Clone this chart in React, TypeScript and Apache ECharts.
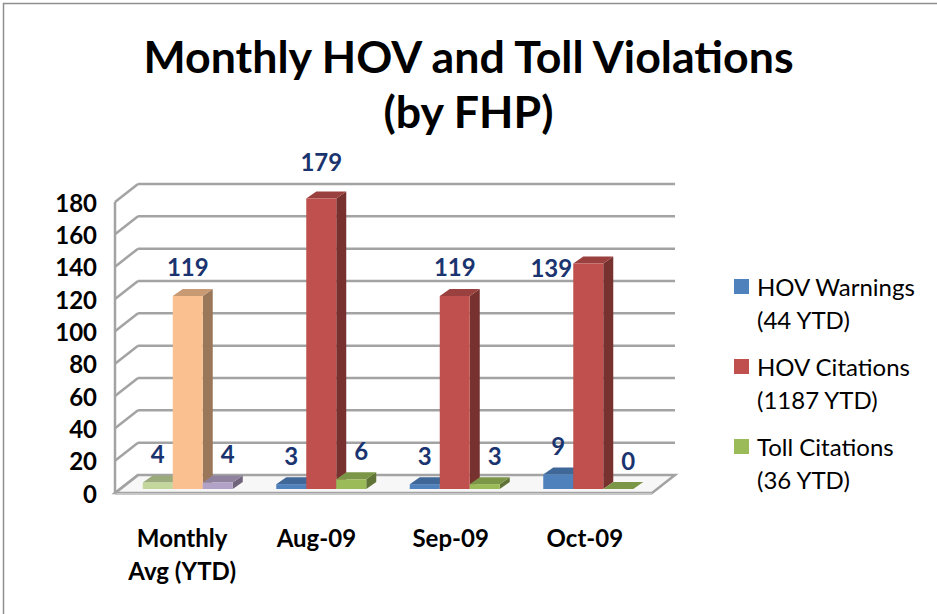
import React, { useEffect, useRef } from 'react';
import * as echarts from 'echarts';

// ---------- data ----------
const categories = ['Monthly\nAvg (YTD)', 'Aug-09', 'Sep-09', 'Oct-09'];
const seriesNames = ['HOV Warnings', 'HOV Citations', 'Toll Citations'];
const hovWarnings = [4, 3, 3, 9];
const hovCitations = [119, 179, 119, 139];
const tollCitations = [4, 6, 3, 0];
const ytdTotals = [44, 1187, 36];
const yTicks = [0, 20, 40, 60, 80, 100, 120, 140, 160, 180];

const seriesValues = [hovWarnings, hovCitations, tollCitations];

// ---------- styles ----------
const seriesColors = ['#4f81bd', '#c0504d', '#9bbb59'];
const avgColors = ['#c3d69b', '#fac090', '#b3a2c7'];
const LABEL_COLOR = '#1a3470';
const FONT = 'Lato, "Open Sans", sans-serif';
const BAR_W = 30;
const BAR_DX = 10;
const BAR_DY = -7;
const WALL_DX = 23;
const WALL_DY = -18;
const GRID_LINE = '#a3a3a3';
// label offsets for special data labels, keyed "series-index"
const labelOffsets: Record<string, number[]> = {
  '1-1': [0, -8],
  '1-3': [-37, 33],
};

function shade(hex: string, f: number): string {
  const n = parseInt(hex.slice(1), 16);
  const r = Math.round(((n >> 16) & 255) * f);
  const g = Math.round(((n >> 8) & 255) * f);
  const b = Math.round((n & 255) * f);
  return `rgb(${r},${g},${b})`;
}

export default function App() {
  const ref = useRef<HTMLDivElement>(null);

  useEffect(() => {
    document.body.style.margin = '0';
    if (!ref.current) return;
    const chart = echarts.init(ref.current, undefined, { renderer: 'svg' });

    const barSeries = seriesValues.map((vals, s) => ({
      type: 'bar',
      name: seriesNames[s],
      xAxisIndex: 1,
      yAxisIndex: 1,
      barWidth: BAR_W,
      barGap: '0%',
      z: 3,
      itemStyle: { color: seriesColors[s] },
      label: {
        show: true,
        position: 'top',
        distance: 17,
        color: LABEL_COLOR,
        fontFamily: FONT,
        fontWeight: 'bold',
        fontSize: 24,
        offset: s === 2 ? [10, 0] : [0, 0],
      },
      data: vals.map((v, i) => {
        const item: any = { value: v };
        if (i === 0) item.itemStyle = { color: avgColors[s] };
        const off = labelOffsets[`${s}-${i}`];
        if (off) item.label = { offset: off };
        return item;
      }),
    }));

    const faceData: number[][] = [];
    seriesValues.forEach((vals, s) => vals.forEach((v, i) => faceData.push([i, v, s])));

    const option: any = {
      animation: false,
      backgroundColor: '#ffffff',
      title: {
        text: 'Monthly HOV and Toll Violations\n(by FHP)',
        left: 'center',
        top: 28,
        padding: [0, 0, 0, 18],
        textStyle: {
          fontFamily: FONT,
          fontWeight: 'bold',
          fontSize: 44.7,
          lineHeight: 55,
          color: '#000',
        },
      },
      legend: {
        orient: 'vertical',
        left: 734,
        top: 237,
        padding: 0,
        itemGap: -19,
        itemWidth: 15,
        itemHeight: 15,
        icon: 'rect',
        selectedMode: false,
        data: seriesNames,
        formatter: (name: string) => `\n${name}\n(${ytdTotals[seriesNames.indexOf(name)]} YTD)`,
        textStyle: {
          fontFamily: FONT,
          fontSize: 24,
          lineHeight: 33,
          color: '#000',
          padding: [0, 0, 0, 3],
        },
      },
      graphic: [
        {
          type: 'rect',
          silent: true,
          z: -10,
          shape: { x: 3.5, y: 3.5, width: 1000, height: 1000 },
          style: { fill: 'none', stroke: '#8f8f8f', lineWidth: 1.5 },
        },
      ],
      grid: [
        { left: 115, right: 285, top: 202, bottom: 121 },
        { left: 121, right: 282, top: 197, bottom: 125 },
      ],
      xAxis: [
        {
          type: 'category',
          gridIndex: 0,
          data: categories,
          axisLine: { show: false },
          axisTick: { show: false },
          axisLabel: {
            interval: 0,
            margin: 28,
            fontFamily: FONT,
            fontWeight: 'bold',
            fontSize: 24,
            lineHeight: 33,
            color: '#000',
          },
        },
        { type: 'category', gridIndex: 1, data: categories, show: false },
      ],
      yAxis: [
        {
          type: 'value',
          gridIndex: 0,
          min: 0,
          max: 180,
          interval: 20,
          axisLine: { show: false },
          axisTick: { show: false },
          splitLine: { show: false },
          axisLabel: {
            margin: 18,
            fontFamily: FONT,
            fontWeight: 'bold',
            fontSize: 24,
            color: '#000',
          },
        },
        { type: 'value', gridIndex: 1, min: 0, max: 180, interval: 20, show: false },
      ],
      series: [
        {
          type: 'custom',
          name: 'wall',
          xAxisIndex: 0,
          yAxisIndex: 0,
          silent: true,
          z: 1,
          data: yTicks.map((v) => [0, v]),
          renderItem: (params: any, api: any) => {
            const cs = params.coordSys;
            const v = api.value(1);
            const y = api.coord([0, v])[1];
            const lineStyle = { stroke: GRID_LINE, lineWidth: 2.5 };
            const children: any[] = [];
            if (v === 0) {
              const yTop = api.coord([0, 180])[1];
              children.push({
                type: 'polygon',
                shape: {
                  points: [
                    [cs.x, y],
                    [cs.x + cs.width, y],
                    [cs.x + cs.width + WALL_DX, y + WALL_DY],
                    [cs.x + WALL_DX, y + WALL_DY],
                  ],
                },
                style: { fill: '#f7f7f7', stroke: GRID_LINE, lineWidth: 2.5 },
              });
              children.push({
                type: 'line',
                shape: { x1: cs.x, y1: y + 1, x2: cs.x + cs.width, y2: y + 1 },
                style: { stroke: '#c8c8c8', lineWidth: 2 },
              });
              children.push({
                type: 'line',
                shape: { x1: cs.x, y1: y, x2: cs.x, y2: yTop },
                style: lineStyle,
              });
            } else {
              children.push({
                type: 'line',
                shape: { x1: cs.x + WALL_DX, y1: y + WALL_DY, x2: cs.x + cs.width + WALL_DX, y2: y + WALL_DY },
                style: lineStyle,
              });
            }
            children.push({
              type: 'line',
              shape: { x1: cs.x, y1: y, x2: cs.x + WALL_DX, y2: y + WALL_DY },
              style: lineStyle,
            });
            return { type: 'group', children };
          },
        },
        {
          type: 'custom',
          name: 'faces',
          xAxisIndex: 1,
          yAxisIndex: 1,
          silent: true,
          z: 2,
          data: faceData,
          renderItem: (params: any, api: any) => {
            const cat = api.value(0);
            const v = api.value(1);
            const s = api.value(2);
            const top = api.coord([cat, v]);
            const base = api.coord([cat, 0]);
            const xL = top[0] + (s - 1) * BAR_W - BAR_W / 2;
            const xR = xL + BAR_W;
            const color = cat === 0 ? avgColors[s] : seriesColors[s];
            return {
              type: 'group',
              children: [
                {
                  type: 'polygon',
                  shape: {
                    points: [
                      [xR, top[1]],
                      [xR + BAR_DX, top[1] + BAR_DY],
                      [xR + BAR_DX, base[1] + BAR_DY],
                      [xR, base[1]],
                    ],
                  },
                  style: { fill: shade(color, 0.62) },
                },
                {
                  type: 'polygon',
                  shape: {
                    points: [
                      [xL, top[1]],
                      [xR, top[1]],
                      [xR + BAR_DX, top[1] + BAR_DY],
                      [xL + BAR_DX, top[1] + BAR_DY],
                    ],
                  },
                  style: { fill: shade(color, 0.8) },
                },
              ],
            };
          },
        },
        ...barSeries,
      ],
    };

    chart.setOption(option);
    return () => chart.dispose();
  }, []);

  return <div ref={ref} style={{ width: 937, height: 614 }} />;
}
